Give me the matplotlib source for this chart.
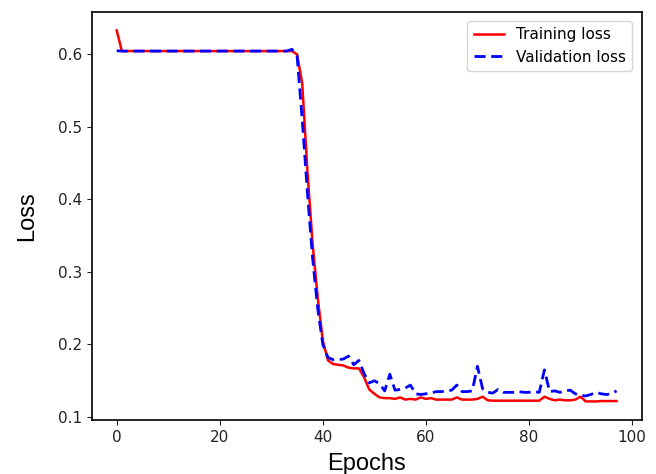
import matplotlib
matplotlib.use("Agg")
import matplotlib.pyplot as plt
import numpy as np

epochs = list(range(98))

train_loss = [0.633] + [0.6045] * 34 + [
    0.600, 0.56, 0.44, 0.34, 0.265, 0.205, 0.178, 0.173, 0.172, 0.171,
    0.168, 0.167, 0.167, 0.155, 0.138, 0.132, 0.127, 0.126, 0.126, 0.125,
    0.127, 0.124, 0.125, 0.124, 0.127, 0.125, 0.126, 0.124, 0.124, 0.124,
    0.124, 0.127, 0.124, 0.124, 0.124, 0.125, 0.128, 0.123, 0.1225, 0.1225,
    0.1225, 0.1225, 0.1225, 0.1225, 0.1225, 0.1225, 0.1225, 0.1225, 0.128, 0.125,
    0.123, 0.124, 0.123, 0.123, 0.124, 0.128, 0.1215, 0.1215, 0.1215, 0.122,
    0.122, 0.122, 0.122]

val_loss = [0.605] + [0.6045] * 33 + [
    0.607, 0.598, 0.51, 0.41, 0.32, 0.25, 0.20, 0.182, 0.179, 0.179,
    0.180, 0.184, 0.172, 0.178, 0.160, 0.147, 0.150, 0.146, 0.136, 0.159,
    0.137, 0.138, 0.140, 0.144, 0.132, 0.131, 0.132, 0.133, 0.135, 0.135,
    0.136, 0.137, 0.144, 0.135, 0.135, 0.136, 0.170, 0.139, 0.134, 0.133,
    0.138, 0.134, 0.134, 0.134, 0.135, 0.134, 0.134, 0.135, 0.134, 0.165,
    0.135, 0.136, 0.134, 0.136, 0.137, 0.132, 0.130, 0.129, 0.131, 0.134,
    0.132, 0.131, 0.132, 0.136]

fig = plt.figure(figsize=(6.56, 4.74), dpi=100)
ax = fig.add_axes([0.1398, 0.114, 0.978 - 0.1398, 0.975 - 0.114])

ax.plot(epochs, train_loss, color="red", linewidth=1.8, label="Training loss")
ax.plot(epochs, val_loss, color="blue", linestyle=(0, (4, 2)), linewidth=2.0, label="Validation loss")

ax.set_xticks([0, 20, 40, 60, 80, 100])
ax.set_yticks([0.1, 0.2, 0.3, 0.4, 0.5, 0.6])
ax.tick_params(labelsize=11, colors="#222222")
for s in ax.spines.values():
    s.set_linewidth(1.2)

ax.set_xlabel("Epochs", fontsize=17, family="Liberation Sans", labelpad=6)
ax.set_ylabel("Loss", fontsize=17, family="Liberation Sans", labelpad=14)
ax.legend(loc="upper right", fontsize=11, borderaxespad=0.6)

fig.savefig("out.png", dpi=100)
